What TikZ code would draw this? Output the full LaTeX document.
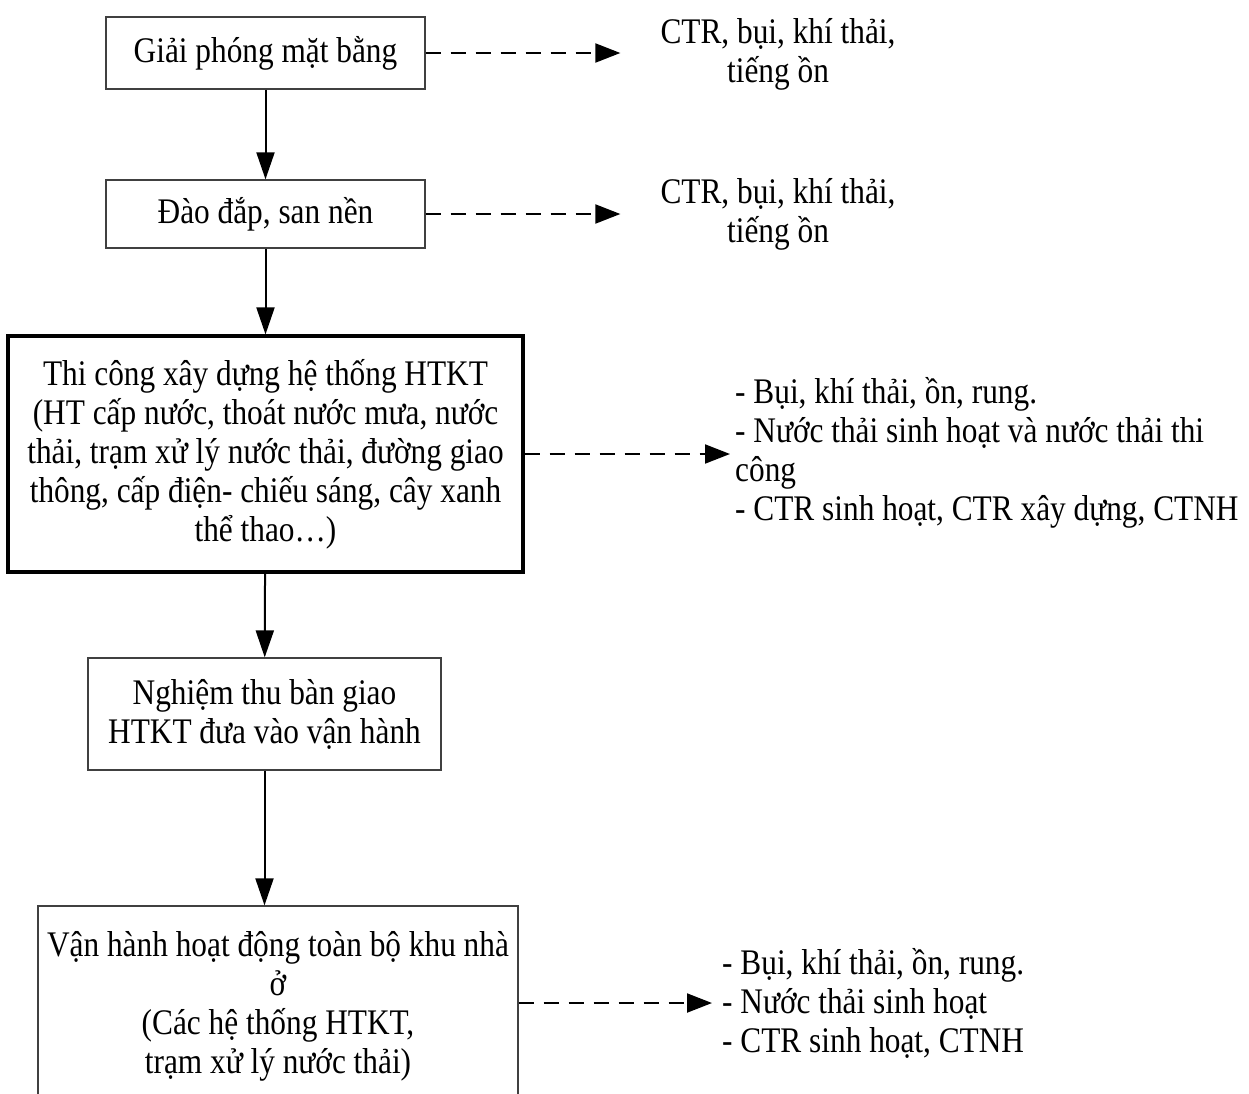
\documentclass[tikz,border=0pt]{standalone}
\usepackage{fontspec}
\setmainfont{Liberation Serif}[FakeStretch=0.87]
\usepackage{tikz}
\usetikzlibrary{arrows.meta,positioning}
\tikzset{
  stepbox/.style={draw=black!75,line width=1.3pt,fill=white,
                  align=center,inner sep=0pt},
  mainbox/.style={draw=black,line width=3.2pt,fill=white,
                  align=center,inner sep=0pt},
  wastetxt/.style={inner sep=0pt},
  flowarr/.style={-{Triangle[length=27pt,width=18pt]},line width=2pt},
  wastearr/.style={-{Triangle[length=25pt,width=19pt]},line width=2pt,
                   dash pattern=on 15pt off 10pt}
}
\begin{document}
\begin{tikzpicture}[x=1pt,y=-1pt,font=\fontsize{36}{39}\selectfont]
  \clip (0,0) rectangle (1249,1093);

  % construction stages, top to bottom
  \node[stepbox,minimum width=319pt,minimum height=72pt] (giaiphong)
    at (265.5,53) {Giải phóng mặt bằng};
  \node[stepbox,minimum width=319pt,minimum height=68pt] (daodap)
    at (265.5,214) {Đào đắp, san nền};
  \node[mainbox,minimum width=515pt,minimum height=236pt] (thicong)
    at (265.5,454) {Thi công xây dựng hệ thống HTKT\\
      (HT cấp nước, thoát nước mưa, nước\\
      thải, trạm xử lý nước thải, đường giao\\
      thông, cấp điện- chiếu sáng, cây xanh\\
      thể thao…)};
  \node[stepbox,minimum width=353pt,minimum height=112pt] (nghiemthu)
    at (264.5,714) {Nghiệm thu bàn giao\\HTKT đưa vào vận hành};
  \node[stepbox,minimum width=480pt,minimum height=200pt] (vanhanh)
    at (278,1006) {Vận hành hoạt động toàn bộ khu nhà\\ở\\
      (Các hệ thống HTKT,\\trạm xử lý nước thải)};

  % what each stage gives off
  \node[wastetxt,align=center] (ctr1) at (778,54)
    {CTR, bụi, khí thải,\\tiếng ồn};
  \node[wastetxt,align=center] (ctr2) at (778,214)
    {CTR, bụi, khí thải,\\tiếng ồn};
  \node[wastetxt,align=left,anchor=west] (ctr3) at (735,453)
    {- Bụi, khí thải, ồn, rung.\\
     - Nước thải sinh hoạt và nước thải thi\\
     công\\
     - CTR sinh hoạt, CTR xây dựng, CTNH};
  \node[wastetxt,align=left,anchor=west] (ctr4) at (722,1003)
    {- Bụi, khí thải, ồn, rung.\\
     - Nước thải sinh hoạt\\
     - CTR sinh hoạt, CTNH};

  % main flow
  \draw[flowarr] (giaiphong) -- (daodap);
  \draw[flowarr] (daodap) -- (thicong);
  \draw[flowarr] (thicong) -- (nghiemthu);
  \draw[flowarr] (nghiemthu.south) -- (nghiemthu.south |- vanhanh.north);

  % side outputs
  \draw[wastearr,shorten >=40pt] (giaiphong.east) -- (giaiphong.east -| ctr1.west);
  \draw[wastearr,shorten >=40pt] (daodap.east) -- (daodap.east -| ctr2.west);
  \draw[wastearr,shorten >=5pt] (thicong.east) -- (thicong.east -| ctr3.west);
  \draw[wastearr,shorten >=10pt] (vanhanh.east |- ctr4.west) -- (ctr4.west);
\end{tikzpicture}
\end{document}
